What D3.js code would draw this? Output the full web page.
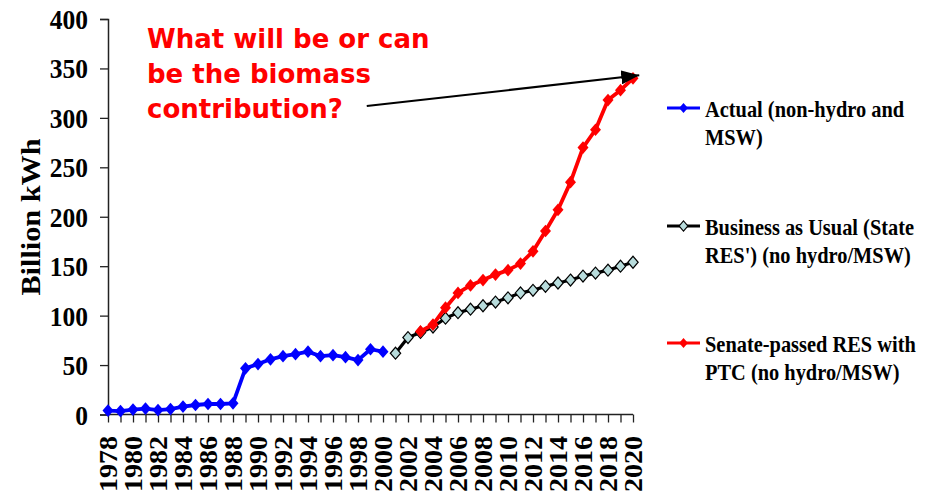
<!DOCTYPE html>
<html>
<head>
<meta charset="utf-8">
<script src="https://cdn.jsdelivr.net/npm/d3@7"></script>
<style>
  html, body { margin: 0; padding: 0; background: #fff; }
  svg { display: block; }
</style>
</head>
<body>
<svg id="chart" width="944" height="498"></svg>
<script>
// ---- data ----
const actualYears = d3.range(1978, 2001);
const actualValues = [4, 3.5, 5, 6, 4.5, 5.5, 8, 9.6, 10.6, 10.6, 11.3, 46.7, 51, 55.8, 59, 61, 63.5, 59, 60, 58, 55, 66, 63.5];
const bauYears = d3.range(2001, 2021);
const bauValues = [62, 77.8, 83, 88.5, 97.4, 103, 106.5, 110, 113.7, 118, 123, 125.6, 129.6, 133, 136, 140, 143, 146, 150, 154];
const senateYears = d3.range(2003, 2021);
const senateValues = [84, 91, 108, 123, 130.5, 136, 141.5, 146, 152.6, 165, 185.6, 207, 235, 270, 288, 318, 328, 340];
const yTicks = [0, 50, 100, 150, 200, 250, 300, 350, 400];
const xLabelYears = d3.range(1978, 2021, 2);
const seriesNames = ["Actual (non-hydro and|MSW)", "Business as Usual (State|RES') (no hydro/MSW)", "Senate-passed RES with|PTC (no hydro/MSW)"];
const yTitle = "Billion kWh";
const annotationLines = ["What will be or can", "be the biomass", "contribution?"];
const arrowFrom = [1998.7, 312];
const arrowTo = [2020.5, 343];

// ---- layout ----
const svg = d3.select("#chart");
const SY = 1.1; // vertical stretch of text as in reference
const x = d3.scaleLinear().domain([1978, 2020]).range([108, 633]);
const y = d3.scaleLinear().domain([0, 400]).range([414.5, 19]);
const serif = "'Liberation Serif', 'Times New Roman', serif";

// axes
const yAxis = d3.axisLeft(y).tickValues(yTicks).tickSize(8).tickPadding(12).tickFormat(d3.format("d"));
const gy = svg.append("g").attr("transform", "translate(108,0)").call(yAxis);
gy.select(".domain").attr("stroke", "#222").attr("stroke-width", 1.5);
gy.selectAll(".tick line").attr("stroke", "#222").attr("stroke-width", 1.3);
gy.selectAll(".tick text")
  .attr("font-family", serif).attr("font-weight", "bold").attr("font-size", 25.5)
  .attr("fill", "#000").attr("dy", "0.34em")
  .attr("transform", `scale(1,${SY})`);

const xAxis = d3.axisBottom(x).tickValues(d3.range(1978, 2021)).tickSize(8).tickFormat("");
const gx = svg.append("g").attr("transform", `translate(0,${y(0)})`).call(xAxis);
gx.select(".domain").attr("stroke", "#222").attr("stroke-width", 1.5).attr("d", `M${x(1978)},0H${x(2020)}`);
gx.selectAll(".tick line").attr("stroke", "#222").attr("stroke-width", 1.3);

// x labels (rotated)
svg.append("g").selectAll("text").data(xLabelYears).join("text")
  .attr("transform", d => `translate(${x(d)},436) scale(1,${SY}) rotate(-90)`)
  .attr("text-anchor", "end").attr("dy", "0.34em")
  .attr("font-family", serif).attr("font-weight", "bold").attr("font-size", 25.5)
  .attr("fill", "#000")
  .text(d => d);

// y title
svg.append("text")
  .attr("transform", `translate(40,217) scale(1,${SY}) rotate(-90)`)
  .attr("text-anchor", "middle")
  .attr("font-family", serif).attr("font-weight", "bold").attr("font-size", 27.5)
  .attr("fill", "#000")
  .text(yTitle);

// ---- series ----
const diamond = d3.symbol().type(d3.symbolDiamond2);
function drawSeries(years, values, lineColor, lineWidth, markerFill, markerStroke, size) {
  const pts = years.map((yr, i) => [yr, values[i]]);
  const line = d3.line().x(d => x(d[0])).y(d => y(d[1]));
  svg.append("path").datum(pts).attr("d", line)
    .attr("fill", "none").attr("stroke", lineColor).attr("stroke-width", lineWidth).attr("stroke-linejoin", "round");
  svg.append("g").selectAll("path").data(pts).join("path")
    .attr("d", diamond.size(size)())
    .attr("transform", d => `translate(${x(d[0])},${y(d[1])}) scale(0.95,1.1)`)
    .attr("fill", markerFill)
    .attr("stroke", markerStroke).attr("stroke-width", markerStroke === "none" ? 0 : 1.2);
}
drawSeries(actualYears, actualValues, "#0000ff", 3.8, "#0000ff", "none", 85);
drawSeries(bauYears, bauValues, "#000000", 3.2, "#b8dcdc", "#000000", 75);
drawSeries(senateYears, senateValues, "#ff0000", 3.8, "#ff0000", "none", 85);

// ---- legend ----
const legendItems = [
  { name: seriesNames[0], color: "#0000ff", fill: "#0000ff", stroke: "none", ly: 108 },
  { name: seriesNames[1], color: "#000000", fill: "#b8dcdc", stroke: "#000", ly: 226 },
  { name: seriesNames[2], color: "#ff0000", fill: "#ff0000", stroke: "none", ly: 343 }
];
const lg = svg.append("g").selectAll("g").data(legendItems).join("g");
lg.append("line").attr("x1", 667).attr("x2", 700).attr("y1", d => d.ly).attr("y2", d => d.ly)
  .attr("stroke", d => d.color).attr("stroke-width", 3);
lg.append("path").attr("d", diamond.size(55)())
  .attr("transform", d => `translate(683.5,${d.ly}) scale(0.95,1.1)`)
  .attr("fill", d => d.fill).attr("stroke", d => d.stroke).attr("stroke-width", d => d.stroke === "none" ? 0 : 1.1);
lg.each(function(d) {
  const lines = d.name.split("|");
  const g = d3.select(this);
  lines.forEach((t, i) => {
    g.append("text")
      .attr("transform", `translate(705,${d.ly + 9 + i * 28}) scale(1,${SY})`)
      .attr("font-family", serif).attr("font-weight", "bold").attr("font-size", 20.4)
      .attr("fill", "#000").text(t);
  });
});

// ---- annotation ----
annotationLines.forEach((t, i) => {
  svg.append("text")
    .attr("x", 147).attr("y", 48 + i * 35)
    .attr("font-family", "'DejaVu Sans', Verdana, sans-serif").attr("font-weight", "bold").attr("font-size", 26)
    .attr("fill", "#ff0000").text(t);
});
const defs = svg.append("defs");
defs.append("marker").attr("id", "arrowhead")
  .attr("viewBox", "0 0 18 14").attr("refX", 18).attr("refY", 7)
  .attr("markerWidth", 18).attr("markerHeight", 14).attr("markerUnits", "userSpaceOnUse")
  .attr("orient", "auto")
  .append("path").attr("d", "M0,0L18,7L0,14Z").attr("fill", "#000");
svg.append("line")
  .attr("x1", x(arrowFrom[0])).attr("y1", y(arrowFrom[1]))
  .attr("x2", x(arrowTo[0])).attr("y2", y(arrowTo[1]))
  .attr("stroke", "#000").attr("stroke-width", 2)
  .attr("marker-end", "url(#arrowhead)");
</script>
</body>
</html>
